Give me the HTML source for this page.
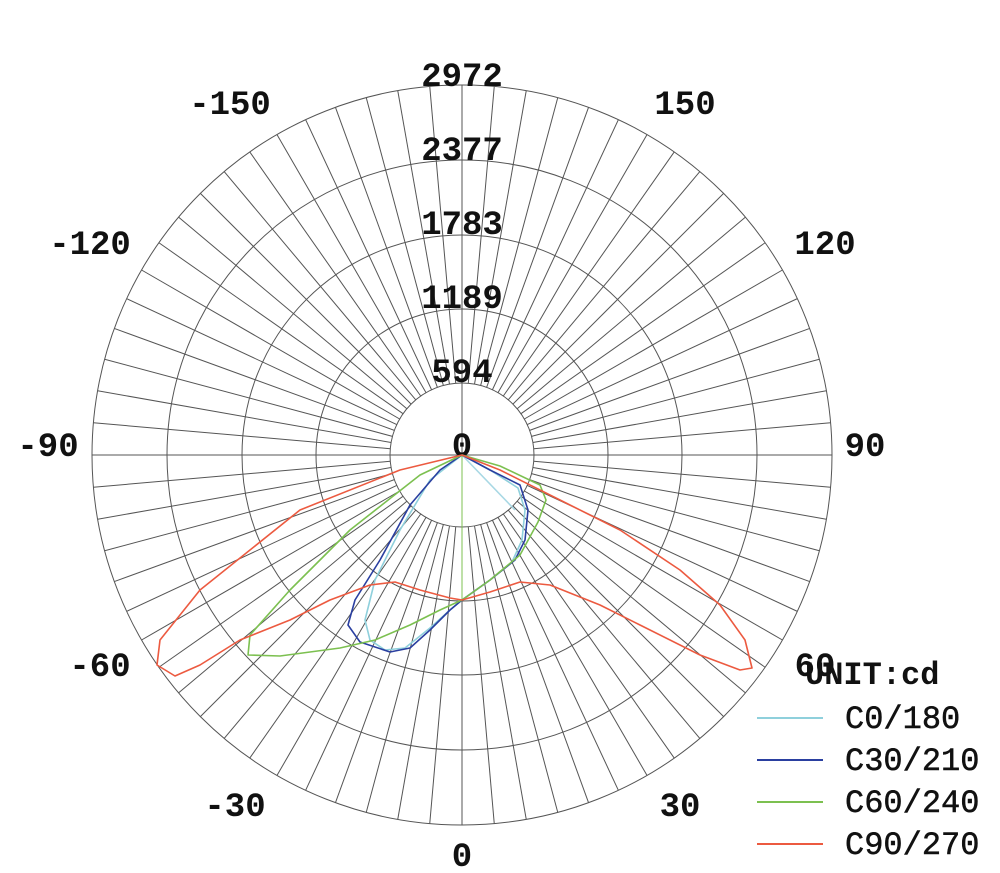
<!DOCTYPE html>
<html><head><meta charset="utf-8"><style>
html,body{margin:0;padding:0;background:#fff;}
svg{display:block;}
text{font-family:"Liberation Mono",monospace;font-weight:bold;fill:#111;}
</style></head><body>
<svg width="1000" height="873" viewBox="0 0 1000 873" xmlns="http://www.w3.org/2000/svg">
<g id="grid" stroke="#555" stroke-width="1" fill="none">
<circle cx="462" cy="455" r="72"/>
<circle cx="462" cy="455" r="146"/>
<circle cx="462" cy="455" r="220"/>
<circle cx="462" cy="455" r="295"/>
<circle cx="462" cy="455" r="370"/>
<line x1="92" y1="455" x2="832" y2="455"/>
<line x1="462" y1="85" x2="462" y2="825"/>
</g>
<g font-size="34" text-anchor="middle">
<text x="462" y="86">2972</text>
<text x="462" y="160">2377</text>
<text x="462" y="234">1783</text>
<text x="462" y="308">1189</text>
<text x="462" y="382">594</text>
<text x="462" y="456">0</text>
<text x="230" y="114">-150</text>
<text x="685" y="114">150</text>
<text x="90" y="254">-120</text>
<text x="825" y="254">120</text>
<text x="48" y="456">-90</text>
<text x="865" y="456">90</text>
<text x="100" y="676">-60</text>
<text x="815" y="676">60</text>
<text x="235" y="816">-30</text>
<text x="680" y="816">30</text>
<text x="462" y="866">0</text>
</g>
<g fill="none" stroke-width="1.6" stroke-linejoin="round">
<polyline stroke="#8fd0dc" points="462,455 430,480 400,530 375,580 365,620 370,640 385,650 405,648 430,628 450,610 462,600 490,580 512,562 522,540 525,510 518,488 490,470 462,455"/>
<polyline stroke="#a8d8e4" points="462,455 515,510"/>
<polyline stroke="#2a3fa0" points="462,455 440,470 410,505 380,560 355,600 348,625 360,642 390,652 410,648 430,630 450,610 462,600 490,580 515,560 525,540 528,510 520,485 490,470 462,455"/>
<polyline stroke="#7cc050" points="462,455 420,475 350,530 290,590 250,635 248,655 280,656 340,648 375,640 410,625 440,610 462,600 490,580 520,555 538,522 546,500 540,485 500,466 462,455"/>
<line stroke="#7cc050" stroke-width="1" x1="462" y1="455" x2="462" y2="600"/>
<polyline stroke="#ec5a40" points="462,455 400,470 300,510 200,590 160,640 157,665 175,676 200,665 240,640 290,620 330,600 370,585 395,582 420,590 450,598 462,600 490,592 520,582 550,585 600,605 640,625 700,655 740,670 752,668 745,640 720,605 680,570 620,530 560,500 500,470 462,455"/>
</g>
<text x="805" y="684" font-size="32">UNIT:cd</text>
<g stroke-width="2">
<line x1="757" y1="718" x2="823" y2="718" stroke="#8fd0dc"/>
<line x1="757" y1="760" x2="823" y2="760" stroke="#2a3fa0"/>
<line x1="757" y1="802" x2="823" y2="802" stroke="#7cc050"/>
<line x1="757" y1="844" x2="823" y2="844" stroke="#ec5a40"/>
</g>
<g font-size="32">
<text x="845" y="728" style="font-weight:normal;stroke:#111;stroke-width:0.5">C0/180</text>
<text x="845" y="770" style="font-weight:normal;stroke:#111;stroke-width:0.5">C30/210</text>
<text x="845" y="812" style="font-weight:normal;stroke:#111;stroke-width:0.5">C60/240</text>
<text x="845" y="854" style="font-weight:normal;stroke:#111;stroke-width:0.5">C90/270</text>
</g>
<script>
(function(){var g=document.getElementById('grid'),ns='http://www.w3.org/2000/svg';
for(var a=0;a<360;a+=5){if(a%90==0)continue;var t=a*Math.PI/180,c=Math.cos(t),s=Math.sin(t);
var l=document.createElementNS(ns,'line');l.setAttribute('x1',462+72*c);l.setAttribute('y1',455+72*s);
l.setAttribute('x2',462+370*c);l.setAttribute('y2',455+370*s);g.appendChild(l);}})();
</script>
</svg>
</body></html>
